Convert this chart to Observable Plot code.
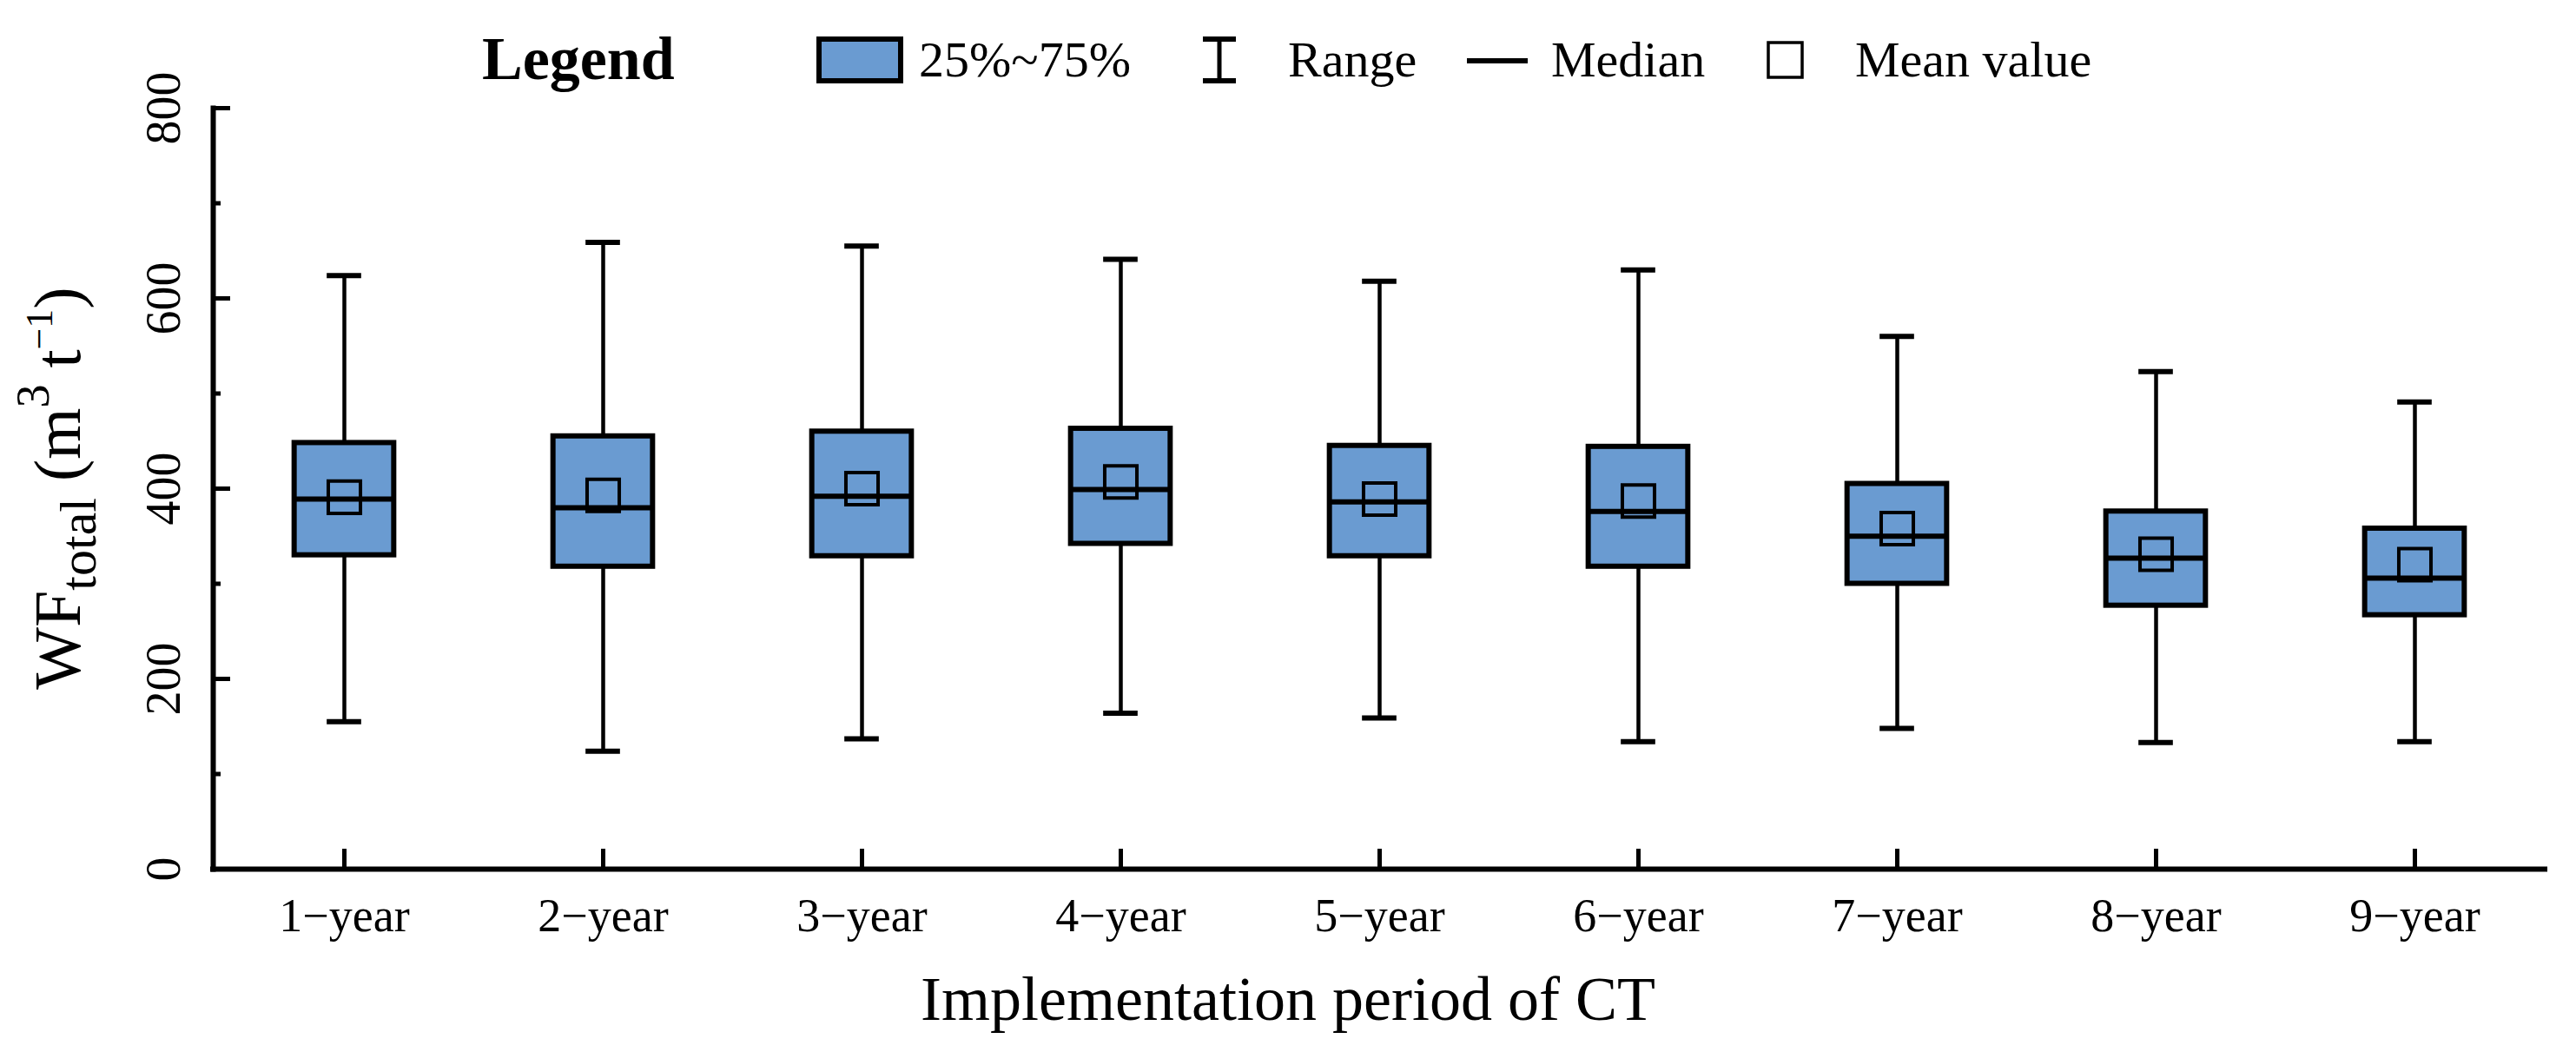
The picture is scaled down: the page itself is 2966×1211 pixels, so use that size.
<!DOCTYPE html>
<html>
<head>
<meta charset="utf-8">
<script src="https://cdn.jsdelivr.net/npm/d3@7"></script>
<script src="https://cdn.jsdelivr.net/npm/@observablehq/plot@0.6"></script>
<style>
  html, body { margin: 0; padding: 0; background: #fff; }
  #wrap { width: 2966px; height: 1211px; position: relative; overflow: hidden;
          font-family: "Liberation Serif", "Times New Roman", serif; color: #000; }
  #legend { display: block; }
  #legend text { font-family: "Liberation Serif", "Times New Roman", serif; fill: #000; }
  #caption { height: 111px; box-sizing: border-box; padding-top: 14px; font-size: 72px;
             line-height: 72px; text-align: center; white-space: nowrap; }
</style>
</head>
<body>
<div id="wrap">
  <svg id="legend" width="2966" height="112" xmlns="http://www.w3.org/2000/svg">
    <text x="555" y="91" font-size="70" font-weight="bold">Legend</text>
    <rect x="943" y="45" width="94" height="48" fill="#6a9bd1" stroke="#000" stroke-width="6"></rect>
    <text x="1058" y="88" font-size="58">25%~75%</text>
    <line x1="1404" x2="1404" y1="45" y2="93" stroke="#000" stroke-width="5"></line>
    <line x1="1385" x2="1423" y1="45" y2="45" stroke="#000" stroke-width="6"></line>
    <line x1="1385" x2="1423" y1="93" y2="93" stroke="#000" stroke-width="6"></line>
    <text x="1483" y="88" font-size="58">Range</text>
    <line x1="1689" x2="1759" y1="70" y2="70" stroke="#000" stroke-width="6"></line>
    <text x="1786" y="88" font-size="58">Median</text>
    <rect x="2036" y="49" width="39" height="40" fill="none" stroke="#000" stroke-width="3.5"></rect>
    <text x="2136" y="88" font-size="58">Mean value</text>
  </svg>
  <div id="chart"></div>
  <div id="caption">Implementation period of CT</div>
</div>
<script>
// ---- data ----
const categories = ["1\u2212year", "2\u2212year", "3\u2212year", "4\u2212year", "5\u2212year",
                    "6\u2212year", "7\u2212year", "8\u2212year", "9\u2212year"];
const minValues    = [155, 124, 137, 164, 159, 134, 148, 133, 134];
const q1Values     = [330, 318, 329, 342, 329, 318, 300, 277, 267];
const medianValues = [389, 380, 392, 399, 386, 376, 350, 327, 306];
const q3Values     = [448, 455, 460, 463, 445, 444, 405, 376, 358];
const maxValues    = [624, 659, 655, 641, 618, 630, 560, 523, 491];
const meanValues   = [391, 393, 400, 407, 389, 387, 358, 331, 320];
const yMajorTicks  = [0, 200, 400, 600, 800];
const yMinorTicks  = [100, 300, 500, 700];

const data = categories.map((cat, i) => ({
  cat, min: minValues[i], q1: q1Values[i], median: medianValues[i],
  q3: q3Values[i], max: maxValues[i], mean: meanValues[i]
}));

// ---- layout / style ----
const W = 2966, H = 988;
const mL = 245, mR = 36, mT = 12, mB = 100;
const BLUE = "#6a9bd1";
const band = (W - mL - mR) / categories.length;
const boxW = 115, capW = 40;
const boxInset = (band - boxW) / 2;
const capInset = (band - capW) / 2;

const chart = Plot.plot({
  width: W, height: H,
  marginLeft: mL, marginRight: mR, marginTop: mT, marginBottom: mB,
  style: {fontFamily: "Liberation Serif, Times New Roman, serif", background: "white", color: "black", overflow: "visible"},
  x: {domain: categories, padding: 0, label: null},
  y: {domain: [0, 800], label: null},
  marks: [
    Plot.ruleX(data, {x: "cat", y1: "min", y2: "max", stroke: "black", strokeWidth: 4.5}),
    Plot.tickY(data, {x: "cat", y: "min", stroke: "black", strokeWidth: 6, inset: capInset}),
    Plot.tickY(data, {x: "cat", y: "max", stroke: "black", strokeWidth: 6, inset: capInset}),
    Plot.barY(data, {x: "cat", y1: "q1", y2: "q3", fill: BLUE, stroke: "black", strokeWidth: 6,
                     insetLeft: boxInset, insetRight: boxInset}),
    Plot.tickY(data, {x: "cat", y: "median", stroke: "black", strokeWidth: 6, inset: boxInset}),
    Plot.dot(data, {x: "cat", y: "mean", symbol: "square", r: 20.9, fill: "none", stroke: "black", strokeWidth: 4}),
    Plot.frame({anchor: "left", stroke: "black", strokeWidth: 6, strokeLinecap: "square"}),
    Plot.ruleY([0], {stroke: "black", strokeWidth: 6, strokeLinecap: "square"}),
    Plot.axisY({ticks: yMajorTicks, tickSize: -20, strokeWidth: 5, tickFormat: () => "", label: null}),
    Plot.axisY({ticks: yMinorTicks, tickSize: -9, strokeWidth: 5, tickFormat: () => "", label: null}),
    Plot.axisY({ticks: yMajorTicks, tickSize: 0, tickRotate: -90, tickPadding: 39, fontSize: 56, label: null}),
    Plot.axisX({tickSize: -23, strokeWidth: 5, tickFormat: () => "", label: null}),
    Plot.axisX({tickSize: 0, tickPadding: 33, fontSize: 54, label: null})
  ]
});

// y-axis title with subscript / superscripts
const ys = chart.scale("y");
const yc = (ys.apply(0) + ys.apply(800)) / 2;
const t = d3.select(chart).append("text")
  .attr("transform", `translate(92,${yc}) rotate(-90)`)
  .attr("text-anchor", "middle")
  .attr("font-family", "Liberation Serif, Times New Roman, serif")
  .attr("font-size", 76)
  .attr("fill", "black");
t.append("tspan").text("WF");
t.append("tspan").attr("font-size", 60).attr("dy", 18).text("total");
t.append("tspan").attr("dy", -18).text(" (m");
t.append("tspan").attr("font-size", 54).attr("dy", -36).text("3");
t.append("tspan").attr("dy", 36).text(" t");
t.append("tspan").attr("font-size", 44).attr("dy", -32).text("\u22121");
t.append("tspan").attr("dy", 32).text(")");

document.getElementById("chart").appendChild(chart);
</script>
</body>
</html>
